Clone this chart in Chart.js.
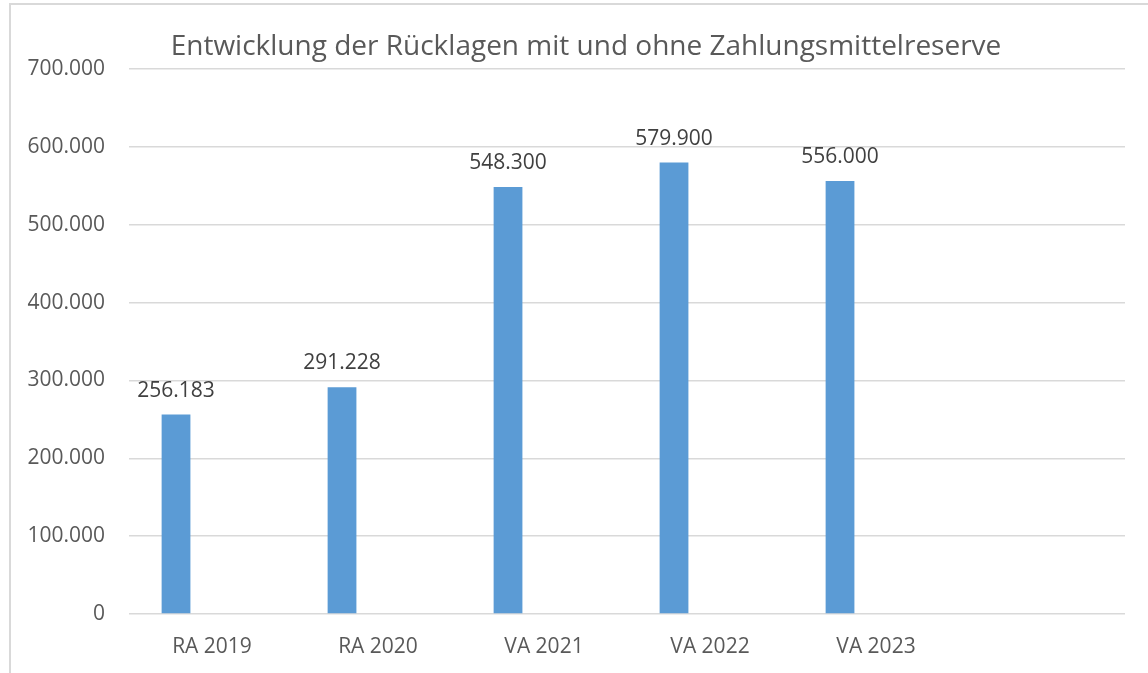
<!DOCTYPE html>
<html>
<head>
<meta charset="utf-8">
<script src="https://cdn.jsdelivr.net/npm/chart.js@4.4.0/dist/chart.umd.min.js"></script>
<style>
  html, body { margin: 0; padding: 0; background: #fff; }
  canvas { display: block; }
</style>
</head>
<body>
<canvas id="myChart" width="1148" height="673"></canvas>
<script>
var categories = ['RA 2019', 'RA 2020', 'VA 2021', 'VA 2022', 'VA 2023', ''];
var mitReserve = [256183, 291228, 548300, 579900, 556000, null];
var ohneReserve = [null, null, null, null, null, null];
var yTicks = [0, 100000, 200000, 300000, 400000, 500000, 600000, 700000];
var chartTitle = 'Entwicklung der Rücklagen mit und ohne Zahlungsmittelreserve';

function formatDe(v) {
    return String(Math.round(v)).replace(/\B(?=(\d{3})+(?!\d))/g, '.');
}

// frame and title like the Excel original
var frameAndTitle = {
    id: 'frameAndTitle',
    beforeDraw: function (chart) {
        var c = chart.ctx;
        c.save();
        c.strokeStyle = '#d9d9d9';
        c.lineWidth = 2;
        c.beginPath();
        c.moveTo(10, chart.height);
        c.lineTo(10, 4);
        c.lineTo(chart.width, 4);
        c.stroke();
        c.restore();
    },
    afterDraw: function (chart) {
        var c = chart.ctx;
        c.save();
        c.font = '28px "Open Sans"';
        c.fillStyle = '#595959';
        c.textAlign = 'center';
        c.textBaseline = 'alphabetic';
        c.fillText(chartTitle, 586, 55);
        c.restore();
    }
};

var valueLabels = {
    id: 'valueLabels',
    afterDatasetsDraw: function (chart) {
        var c = chart.ctx;
        var meta = chart.getDatasetMeta(0);
        c.save();
        c.font = '21px "Open Sans"';
        c.fillStyle = '#404040';
        c.textAlign = 'center';
        c.textBaseline = 'alphabetic';
        meta.data.forEach(function (bar, i) {
            var v = mitReserve[i];
            if (v === null) return;
            c.fillText(formatDe(v), bar.x, bar.y - 18);
        });
        c.restore();
    }
};

var ctx = document.getElementById('myChart').getContext('2d');
var myChart = new Chart(ctx, {
    type: 'bar',
    data: {
        labels: categories,
        datasets: [{
            label: 'mit Zahlungsmittelreserve',
            data: mitReserve,
            backgroundColor: '#5b9bd5',
            categoryPercentage: 0.867,
            barPercentage: 0.4
        }, {
            label: 'ohne Zahlungsmittelreserve',
            data: ohneReserve,
            backgroundColor: '#ed7d31',
            categoryPercentage: 0.867,
            barPercentage: 0.4
        }]
    },
    options: {
        responsive: false,
        animation: false,
        layout: {
            padding: { top: 69, right: 23, bottom: 0, left: 0 }
        },
        plugins: {
            legend: { display: false },
            title: { display: false },
            tooltip: { enabled: false }
        },
        scales: {
            x: {
                grid: { display: false },
                border: { display: false },
                ticks: {
                    color: '#595959',
                    font: { family: 'Open Sans', size: 21 },
                    padding: 12,
                    maxRotation: 0
                },
                afterFit: function (scale) { scale.height = 59; }
            },
            y: {
                min: 0,
                max: 700000,
                afterBuildTicks: function (scale) {
                    scale.ticks = yTicks.map(function (v) { return { value: v }; });
                },
                grid: { color: '#d9d9d9', lineWidth: 1.5, drawTicks: false },
                border: { display: false },
                ticks: {
                    color: '#595959',
                    font: { family: 'Open Sans', size: 21 },
                    padding: 24,
                    callback: function (v) { return formatDe(v); }
                },
                afterFit: function (scale) { scale.width = 129; }
            }
        }
    },
    plugins: [frameAndTitle, valueLabels]
});
</script>
</body>
</html>
